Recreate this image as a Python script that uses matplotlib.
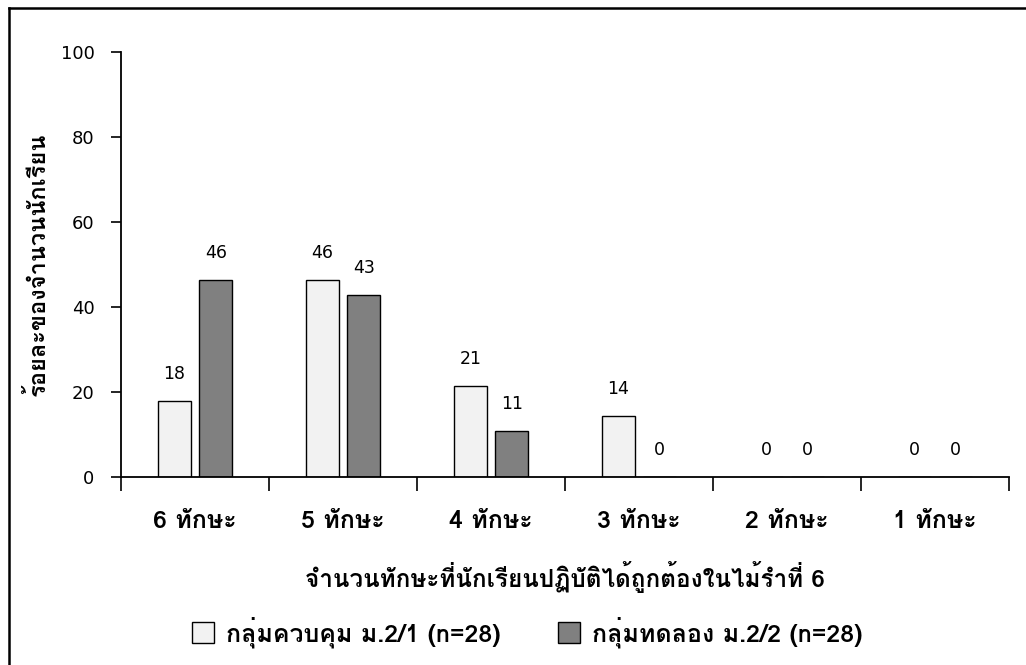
import numpy as np
import matplotlib
matplotlib.use("Agg")
import matplotlib.pyplot as plt
from matplotlib.lines import Line2D
from matplotlib.patches import Patch

plt.rcParams['font.family'] = ['Loma', 'DejaVu Sans']

categories = ["6 ทักษะ", "5 ทักษะ", "4 ทักษะ", "3 ทักษะ", "2 ทักษะ", "1 ทักษะ"]
control = [17.86, 46.43, 21.43, 14.29, 0, 0]
experiment = [46.43, 42.86, 10.71, 0, 0, 0]
series_names = ["กลุ่มควบคุม ม.2/1 (n=28)", "กลุ่มทดลอง ม.2/2 (n=28)"]
y_ticks = [0, 20, 40, 60, 80, 100]

fig = plt.figure(figsize=(10.26, 6.65), dpi=100)
ax = fig.add_axes([121/1026, 1 - 477/665, 888/1026, 425/665])

x = np.arange(len(categories))
w = 0.22
off = 0.14
b1 = ax.bar(x - off, control, w, color='#f2f2f2', edgecolor='black', linewidth=1)
b2 = ax.bar(x + off, experiment, w, color='#808080', edgecolor='black', linewidth=1)

for bars, vals in [(b1, control), (b2, experiment)]:
    for r, v in zip(bars, vals):
        ax.annotate(f"{v:.0f}", (r.get_x() + r.get_width()/2, v),
                    xytext=(0, 13), textcoords='offset points',
                    ha='center', va='bottom', fontsize=12.5, family='DejaVu Sans')

ax.set_xlim(-0.5, len(categories) - 0.5)
ax.set_ylim(0, 100)
ax.set_yticks(y_ticks)
ax.tick_params(axis='y', labelsize=13, length=7, width=1.2, pad=12)
for t in ax.get_yticklabels():
    t.set_family('DejaVu Sans')
ax.set_xticks(x)
ax.set_xticklabels(categories, fontsize=18, fontweight='bold')
ax.set_xticks(np.arange(len(categories) + 1) - 0.5, minor=True)
ax.tick_params(axis='x', which='major', length=0, pad=24)
ax.tick_params(axis='x', which='minor', length=10, width=1.2, direction='out')
for s in ['top', 'right']:
    ax.spines[s].set_visible(False)
for s in ['left', 'bottom']:
    ax.spines[s].set_linewidth(1.3)

ax.set_ylabel("ร้อยละของจำนวนนักเรียน", fontsize=17, fontweight='bold', labelpad=8)
ax.set_xlabel("จำนวนทักษะที่นักเรียนปฏิบัติได้ถูกต้องในไม้รำที่ 6",
              fontsize=17.5, fontweight='bold', labelpad=20)

handles = [Patch(facecolor='#f2f2f2', edgecolor='black'),
           Patch(facecolor='#808080', edgecolor='black')]
fig.legend(handles, series_names, loc='center', bbox_to_anchor=(527/1026, 1 - 632/665),
           ncol=2, frameon=False, prop={'size': 18, 'weight': 'bold'},
           handlelength=0.9, handleheight=0.9, handletextpad=0.45, columnspacing=2.3)

# page frame
fig.add_artist(Line2D([9/1026, 9/1026], [0, 1 - 8/665], transform=fig.transFigure,
                      color='black', linewidth=1.8))
fig.add_artist(Line2D([9/1026, 1], [1 - 8/665, 1 - 8/665], transform=fig.transFigure,
                      color='black', linewidth=1.8))

fig.savefig("out.png")
